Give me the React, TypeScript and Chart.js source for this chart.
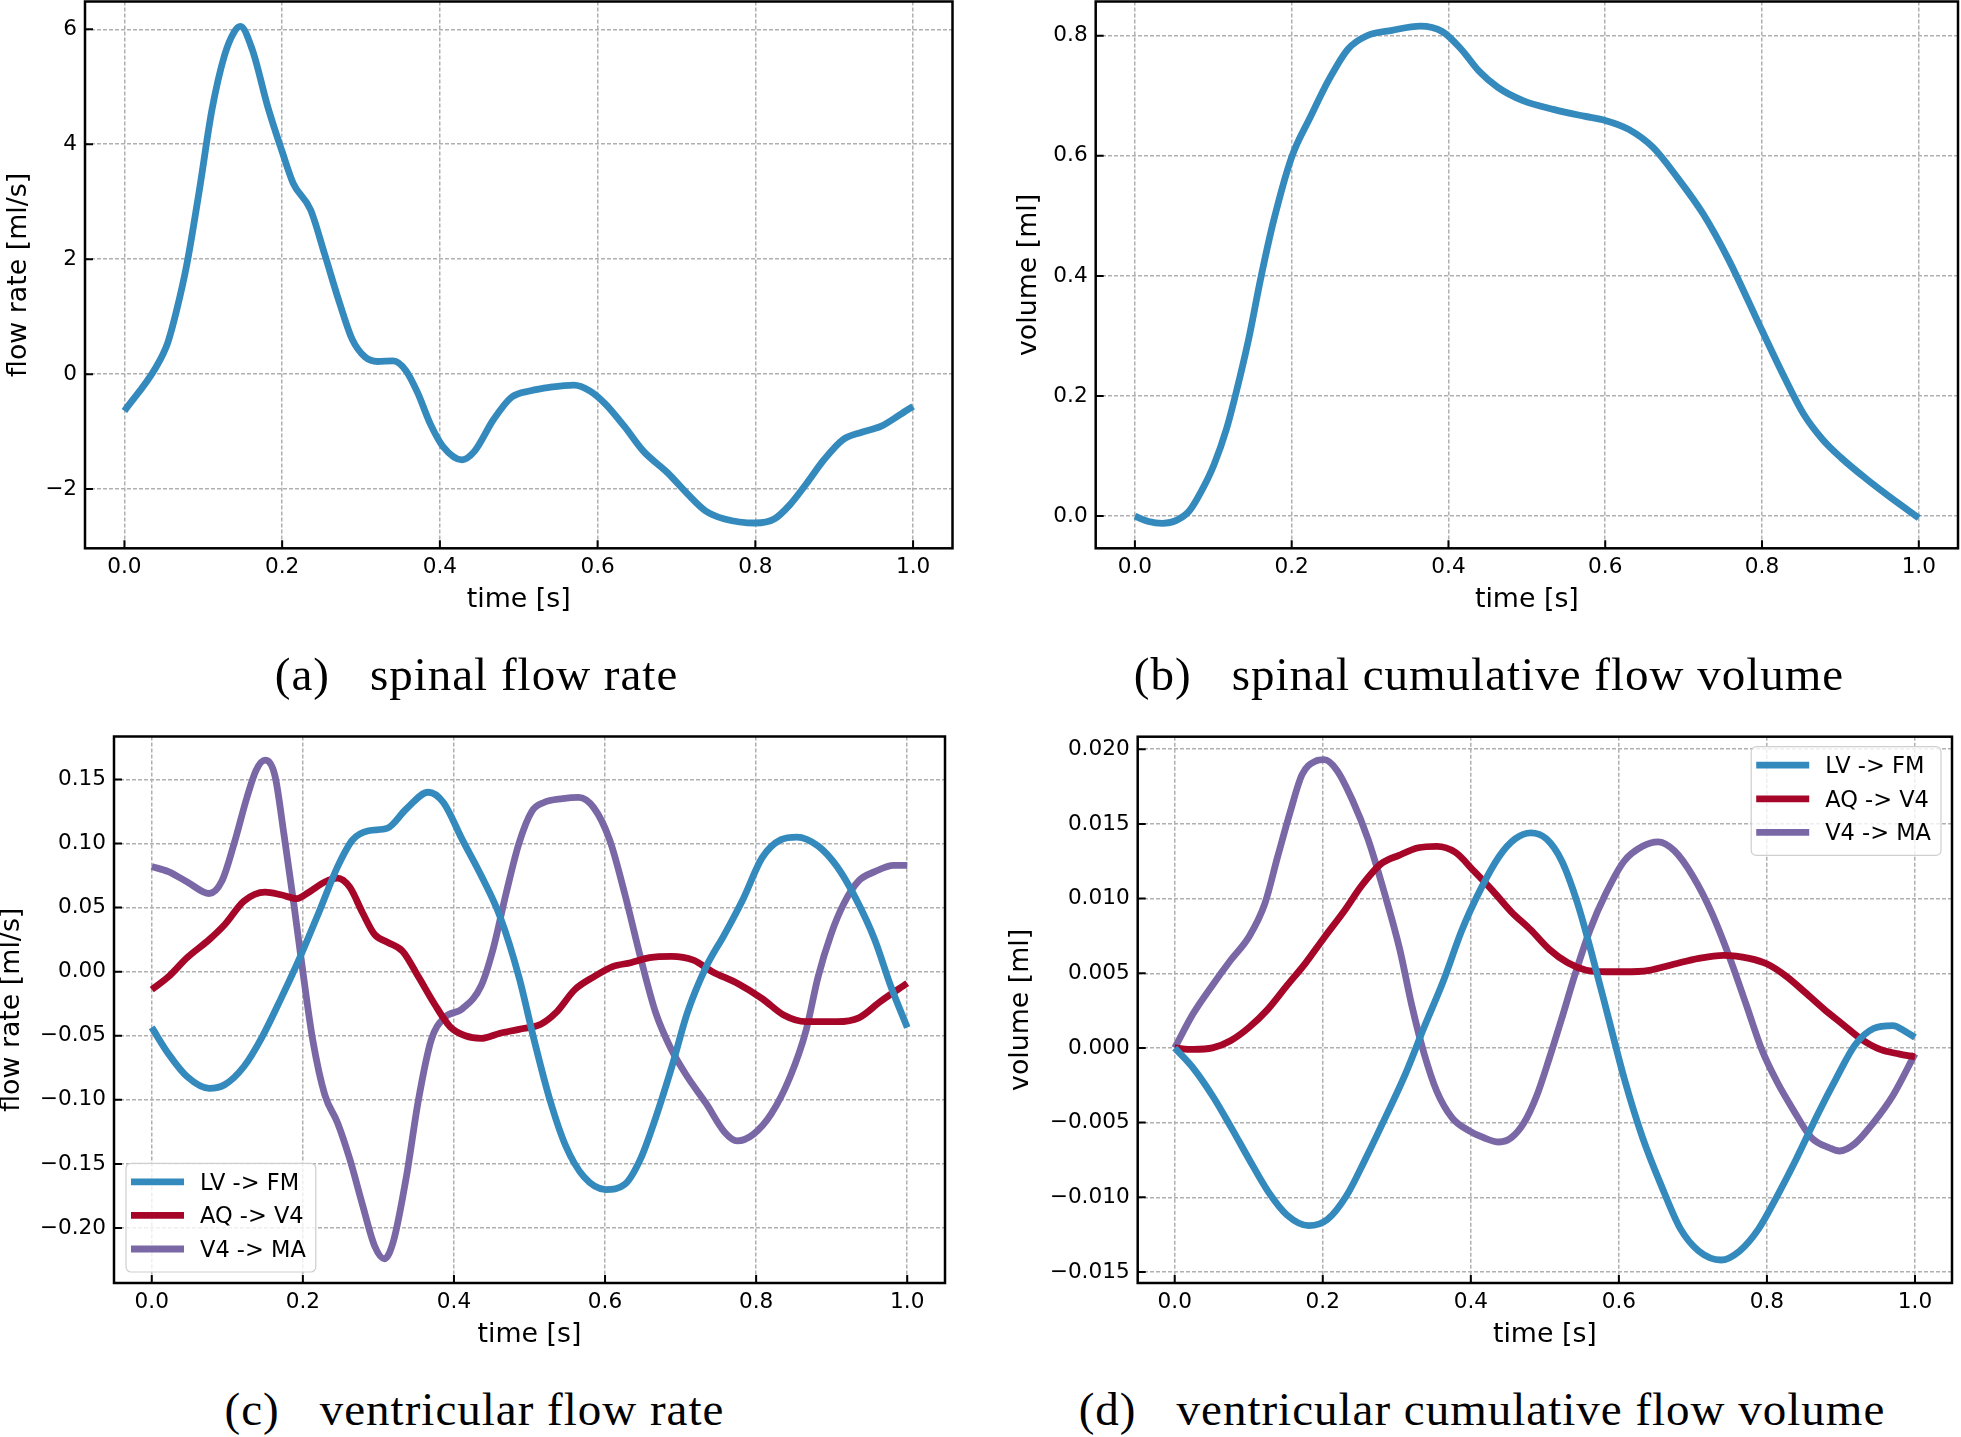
import React, { useEffect, useRef } from 'react';
import { Chart, registerables } from 'chart.js';

Chart.register(...registerables);

const BLUE = '#348ABD';
const RED = '#A60628';
const PURPLE = '#7A68A6';
const GRID = '#b0b0b0';
const SANS = '"DejaVu Sans", sans-serif';
const TICK_SIZE = 21.6;
const LEGEND_SIZE = 22.5;
const LABEL_SIZE = 26.8;
const LINE_W = 6.8;

const xTickValues = [0, 0.2, 0.4, 0.6, 0.8, 1.0];

// (a) spinal flow rate
const spinalRateTime = [0, 0.04, 0.055, 0.066, 0.079, 0.095, 0.111, 0.127, 0.139, 0.147, 0.162, 0.182, 0.2, 0.214, 0.236, 0.254, 0.273, 0.289, 0.305, 0.321, 0.341, 0.357, 0.372, 0.388, 0.404, 0.428, 0.444, 0.468, 0.491, 0.515, 0.539, 0.57, 0.59, 0.61, 0.634, 0.658, 0.689, 0.713, 0.737, 0.761, 0.8, 0.824, 0.844, 0.864, 0.887, 0.911, 0.935, 0.959, 0.983, 1.0];
const spinalRateValue = [-0.64, 0.12, 0.55, 1.1, 1.9, 3.2, 4.6, 5.55, 5.95, 6.05, 5.65, 4.64, 3.87, 3.32, 2.86, 2.08, 1.23, 0.6, 0.3, 0.22, 0.23, 0.06, -0.33, -0.87, -1.26, -1.49, -1.34, -0.79, -0.4, -0.29, -0.23, -0.19, -0.29, -0.52, -0.91, -1.34, -1.72, -2.07, -2.38, -2.52, -2.59, -2.52, -2.27, -1.92, -1.49, -1.14, -1.01, -0.91, -0.71, -0.56];

// (b) spinal cumulative flow volume
const spinalVolTime = [0, 0.0175, 0.035, 0.053, 0.069, 0.085, 0.101, 0.117, 0.129, 0.145, 0.161, 0.177, 0.2, 0.224, 0.248, 0.272, 0.296, 0.328, 0.364, 0.392, 0.416, 0.439, 0.463, 0.495, 0.535, 0.573, 0.6, 0.63, 0.661, 0.693, 0.725, 0.757, 0.8, 0.829, 0.853, 0.877, 0.901, 0.933, 0.964, 1.0];
const spinalVolValue = [0, -0.009, -0.012, -0.007, 0.008, 0.042, 0.086, 0.146, 0.205, 0.294, 0.399, 0.492, 0.598, 0.665, 0.728, 0.778, 0.8, 0.809, 0.816, 0.807, 0.778, 0.741, 0.714, 0.692, 0.677, 0.666, 0.659, 0.644, 0.614, 0.562, 0.503, 0.428, 0.309, 0.23, 0.17, 0.128, 0.097, 0.062, 0.031, -0.003];

// (c) ventricular flow rate
const ventRateLVTime = [0, 0.022, 0.047, 0.076, 0.097, 0.122, 0.146, 0.171, 0.196, 0.221, 0.246, 0.266, 0.287, 0.312, 0.337, 0.366, 0.386, 0.411, 0.436, 0.461, 0.486, 0.506, 0.527, 0.548, 0.572, 0.601, 0.626, 0.647, 0.667, 0.688, 0.709, 0.734, 0.758, 0.783, 0.808, 0.833, 0.854, 0.882, 0.907, 0.932, 0.957, 0.978, 1.0];
const ventRateLVValue = [-0.0435, -0.064, -0.082, -0.091, -0.088, -0.074, -0.051, -0.021, 0.011, 0.046, 0.082, 0.103, 0.11, 0.112, 0.127, 0.14, 0.132, 0.103, 0.075, 0.043, -0.004, -0.053, -0.1, -0.136, -0.16, -0.17, -0.166, -0.146, -0.114, -0.075, -0.032, 0.004, 0.029, 0.057, 0.089, 0.103, 0.105, 0.098, 0.082, 0.057, 0.025, -0.011, -0.0435];
const ventRateAQTime = [0, 0.022, 0.047, 0.076, 0.097, 0.122, 0.15, 0.171, 0.192, 0.208, 0.229, 0.246, 0.262, 0.279, 0.295, 0.312, 0.332, 0.353, 0.374, 0.395, 0.415, 0.436, 0.461, 0.486, 0.515, 0.535, 0.56, 0.585, 0.61, 0.634, 0.659, 0.688, 0.717, 0.742, 0.775, 0.808, 0.837, 0.866, 0.907, 0.936, 0.965, 1.0];
const ventRateAQValue = [-0.014, -0.004, 0.011, 0.025, 0.037, 0.055, 0.062, 0.06, 0.057, 0.062, 0.07, 0.073, 0.066, 0.046, 0.029, 0.023, 0.016, -0.004, -0.025, -0.043, -0.05, -0.052, -0.048, -0.045, -0.041, -0.032, -0.014, -0.004, 0.004, 0.007, 0.011, 0.012, 0.009, 0.0, -0.009, -0.021, -0.034, -0.039, -0.039, -0.036, -0.023, -0.009];
const ventRateV4Time = [0, 0.022, 0.047, 0.076, 0.093, 0.109, 0.126, 0.138, 0.15, 0.163, 0.175, 0.188, 0.2, 0.213, 0.229, 0.246, 0.262, 0.279, 0.295, 0.308, 0.32, 0.337, 0.353, 0.37, 0.387, 0.411, 0.436, 0.452, 0.469, 0.486, 0.503, 0.519, 0.544, 0.565, 0.585, 0.606, 0.626, 0.647, 0.667, 0.688, 0.709, 0.734, 0.758, 0.775, 0.796, 0.82, 0.845, 0.866, 0.882, 0.899, 0.916, 0.936, 0.957, 0.982, 1.0];
const ventRateV4Value = [0.082, 0.078, 0.07, 0.061, 0.071, 0.1, 0.136, 0.157, 0.165, 0.153, 0.107, 0.053, 0.0, -0.053, -0.096, -0.118, -0.146, -0.182, -0.214, -0.224, -0.21, -0.16, -0.1, -0.053, -0.036, -0.029, -0.011, 0.018, 0.061, 0.1, 0.125, 0.132, 0.135, 0.136, 0.128, 0.103, 0.061, 0.011, -0.032, -0.061, -0.082, -0.103, -0.125, -0.132, -0.127, -0.111, -0.082, -0.046, -0.004, 0.029, 0.053, 0.071, 0.078, 0.083, 0.083];

// (d) ventricular cumulative flow volume
const ventVolLVTime = [0, 0.025, 0.051, 0.076, 0.101, 0.126, 0.152, 0.181, 0.206, 0.232, 0.257, 0.287, 0.312, 0.337, 0.363, 0.388, 0.413, 0.438, 0.46, 0.481, 0.502, 0.523, 0.544, 0.565, 0.586, 0.607, 0.632, 0.658, 0.683, 0.708, 0.738, 0.763, 0.789, 0.814, 0.839, 0.869, 0.894, 0.919, 0.944, 0.97, 0.987, 1.0];
const ventVolLVValue = [0, -0.00135, -0.0032, -0.0053, -0.0075, -0.0096, -0.0112, -0.0119, -0.0115, -0.0099, -0.0075, -0.0044, -0.0017, 0.0014, 0.0045, 0.0079, 0.0106, 0.0128, 0.014, 0.0144, 0.014, 0.0125, 0.0097, 0.006, 0.002, -0.002, -0.006, -0.0093, -0.0121, -0.0136, -0.0142, -0.0136, -0.0121, -0.0099, -0.0075, -0.0044, -0.002, 0.0002, 0.0013, 0.0015, 0.0011, 0.0007];
const ventVolAQTime = [0, 0.025, 0.051, 0.076, 0.101, 0.126, 0.152, 0.177, 0.202, 0.228, 0.253, 0.278, 0.303, 0.329, 0.354, 0.379, 0.405, 0.43, 0.455, 0.481, 0.506, 0.531, 0.556, 0.582, 0.607, 0.641, 0.674, 0.708, 0.742, 0.776, 0.801, 0.826, 0.852, 0.877, 0.902, 0.927, 0.953, 0.978, 1.0];
const ventVolAQValue = [0, -0.0001, 0.0, 0.0005, 0.0014, 0.0026, 0.0042, 0.0057, 0.0074, 0.0091, 0.0109, 0.0123, 0.0129, 0.0134, 0.0135, 0.0131, 0.0118, 0.0105, 0.0091, 0.0079, 0.0066, 0.0057, 0.0052, 0.0051, 0.0051, 0.0052, 0.0056, 0.006, 0.0062, 0.006, 0.0056, 0.0048, 0.0037, 0.0026, 0.0016, 0.0006, -0.0001, -0.0004, -0.0006];
const ventVolV4Time = [0, 0.025, 0.051, 0.076, 0.101, 0.122, 0.139, 0.156, 0.172, 0.19, 0.202, 0.219, 0.24, 0.261, 0.282, 0.304, 0.32, 0.337, 0.354, 0.375, 0.396, 0.417, 0.438, 0.455, 0.472, 0.489, 0.506, 0.523, 0.54, 0.561, 0.582, 0.607, 0.632, 0.653, 0.675, 0.7, 0.725, 0.75, 0.772, 0.793, 0.814, 0.835, 0.86, 0.885, 0.898, 0.919, 0.944, 0.97, 1.0];
const ventVolV4Value = [0, 0.0023, 0.0042, 0.0059, 0.0075, 0.0097, 0.0128, 0.0158, 0.0183, 0.0192, 0.0193, 0.0186, 0.0166, 0.014, 0.0106, 0.0066, 0.0029, -0.0004, -0.0029, -0.0047, -0.0055, -0.006, -0.0063, -0.006, -0.005, -0.0032, -0.0007, 0.002, 0.0048, 0.0079, 0.0103, 0.0125, 0.0135, 0.0138, 0.0132, 0.0115, 0.0091, 0.006, 0.0029, -0.0001, -0.0023, -0.0041, -0.006, -0.0067, -0.0069, -0.0064, -0.005, -0.0032, -0.0004];

const seriesLabels = ['LV -> FM', 'AQ -> V4', 'V4 -> MA'];

const yTicksA = [-2, 0, 2, 4, 6];
const yTicksB = [0, 0.2, 0.4, 0.6, 0.8];
const yTicksC = [-0.2, -0.15, -0.1, -0.05, 0, 0.05, 0.1, 0.15];
const yTicksD = [-0.015, -0.01, -0.005, 0, 0.005, 0.01, 0.015, 0.02];

const pts = (t: number[], v: number[]) => t.map((x, i) => ({ x, y: v[i] }));

const fmt = (v: number, d: number) => {
  const s = Math.abs(v).toFixed(d);
  return v < -1e-12 ? '\u2212' + s : s;
};

const framePlugin = {
  id: 'frameTicks',
  afterDatasetsDraw(chart: any) {
    const { ctx, chartArea: ca, scales } = chart;
    const xs = scales.x;
    const ys = scales.y;
    ctx.save();
    ctx.strokeStyle = '#000';
    ctx.lineWidth = 2;
    ctx.beginPath();
    xs.ticks.forEach((t: any) => {
      const px = xs.getPixelForValue(t.value);
      ctx.moveTo(px, ca.bottom);
      ctx.lineTo(px, ca.bottom - 8);
    });
    ys.ticks.forEach((t: any) => {
      const py = ys.getPixelForValue(t.value);
      ctx.moveTo(ca.left, py);
      ctx.lineTo(ca.left + 8, py);
    });
    ctx.stroke();
    ctx.lineWidth = 2.5;
    ctx.strokeRect(ca.left, ca.top, ca.right - ca.left, ca.bottom - ca.top);
    ctx.restore();
  },
};

const legendBoxPlugin = {
  id: 'legendBox',
  afterDraw(chart: any, _args: any, opts: any) {
    if (!opts || !opts.corner) return;
    const { ctx, chartArea: ca } = chart;
    const ds = chart.data.datasets;
    ctx.save();
    ctx.font = `${LEGEND_SIZE}px ${SANS}`;
    const maxW = Math.max(...ds.map((d: any) => ctx.measureText(d.label).width));
    const w = 74 + maxW + 10;
    const first = 18.5;
    const rowH = 33.6;
    const h = first + rowH * (ds.length - 1) + 23;
    let x0: number;
    let y0: number;
    if (opts.corner === 'll') {
      x0 = ca.left + 12;
      y0 = ca.bottom - 11 - h;
    } else {
      x0 = ca.right - 11 - w;
      y0 = ca.top + 10;
    }
    ctx.beginPath();
    if (ctx.roundRect) ctx.roundRect(x0, y0, w, h, 5);
    else ctx.rect(x0, y0, w, h);
    ctx.fillStyle = 'rgba(255,255,255,0.8)';
    ctx.fill();
    ctx.strokeStyle = '#cfcfcf';
    ctx.lineWidth = 1.2;
    ctx.stroke();
    ds.forEach((d: any, i: number) => {
      const yc = y0 + first + i * rowH;
      ctx.beginPath();
      ctx.strokeStyle = d.borderColor;
      ctx.lineWidth = LINE_W;
      ctx.lineCap = 'butt';
      ctx.moveTo(x0 + 5, yc);
      ctx.lineTo(x0 + 58, yc);
      ctx.stroke();
      ctx.fillStyle = '#000';
      ctx.textBaseline = 'middle';
      ctx.textAlign = 'left';
      ctx.fillText(d.label, x0 + 74, yc + 2);
    });
    ctx.restore();
  },
};

type Box = { L: number; T: number; R: number; B: number };
type Spec = {
  box: Box;
  yMin: number;
  yMax: number;
  yTicks: number[];
  yDecimals: number;
  yTitle: string;
  yLabelX: number;
  datasets: { label: string; color: string; data: { x: number; y: number }[] }[];
  legendCorner?: string;
};

function Panel({ spec }: { spec: Spec }) {
  const ref = useRef<HTMLCanvasElement | null>(null);
  const { box } = spec;
  const cx = Math.floor(box.L - 150);
  const cy = Math.floor(box.T - 40);
  const cw = Math.ceil(box.R + 40 - cx);
  const ch = Math.ceil(box.B + 100 - cy);

  useEffect(() => {
    if (!ref.current) return;
    const yW = box.L - cx;
    const padTop = box.T - cy;
    const padRight = cx + cw - box.R;
    const xH = cy + ch - box.B;
    const lh = LABEL_SIZE * 1.2;
    const yTitlePad = spec.yLabelX - cx - lh / 2;
    const xTitlePad = xH - 52 - lh / 2;

    const chart = new Chart(ref.current, {
      type: 'line',
      data: {
        datasets: spec.datasets.map((d) => ({
          label: d.label,
          data: d.data,
          borderColor: d.color,
          backgroundColor: d.color,
          borderWidth: LINE_W,
          pointRadius: 0,
          pointHoverRadius: 0,
          fill: false,
          cubicInterpolationMode: 'monotone',
          borderCapStyle: 'butt',
          borderJoinStyle: 'round',
        })),
      },
      options: {
        responsive: false,
        animation: false,
        devicePixelRatio: 1,
        events: [],
        layout: { padding: { left: 0, top: padTop, right: padRight, bottom: 0 } },
        plugins: {
          legend: { display: false },
          tooltip: { enabled: false },
          legendBox: { corner: spec.legendCorner || '' },
        } as any,
        scales: {
          x: {
            type: 'linear',
            min: -0.05,
            max: 1.05,
            afterBuildTicks: (s: any) => {
              s.ticks = xTickValues.map((v) => ({ value: v }));
            },
            afterFit: (s: any) => {
              s.height = xH;
            },
            grid: { color: GRID, lineWidth: 1.5, drawTicks: false },
            border: { display: false, dash: [4, 2] },
            ticks: {
              padding: 6,
              color: '#000',
              maxRotation: 0,
              autoSkip: false,
              font: { family: SANS, size: TICK_SIZE },
              callback: (v: any) => Number(v).toFixed(1),
            },
            title: {
              display: true,
              text: 'time [s]',
              color: '#000',
              font: { family: SANS, size: LABEL_SIZE },
              padding: { top: 0, bottom: xTitlePad },
            },
          },
          y: {
            type: 'linear',
            min: spec.yMin,
            max: spec.yMax,
            afterBuildTicks: (s: any) => {
              s.ticks = spec.yTicks.map((v) => ({ value: v }));
            },
            afterFit: (s: any) => {
              s.width = yW;
            },
            grid: { color: GRID, lineWidth: 1.5, drawTicks: false },
            border: { display: false, dash: [4, 2] },
            ticks: {
              padding: 8,
              color: '#000',
              autoSkip: false,
              font: { family: SANS, size: TICK_SIZE },
              callback: (v: any) => fmt(Number(v), spec.yDecimals),
            },
            title: {
              display: true,
              text: spec.yTitle,
              color: '#000',
              font: { family: SANS, size: LABEL_SIZE },
              padding: { top: yTitlePad, bottom: 0 },
            },
          },
        },
      } as any,
      plugins: [framePlugin, legendBoxPlugin],
    });
    return () => chart.destroy();
  }, []);

  return (
    <canvas
      ref={ref}
      width={cw}
      height={ch}
      style={{ position: 'absolute', left: cx, top: cy, width: cw, height: ch }}
    />
  );
}

const CAP_SIZE = 47;

function Caption({ tag, text, center, baseline }: { tag: string; text: string; center: number; baseline: number }) {
  return (
    <div
      style={{
        position: 'absolute',
        left: center - 500,
        width: 1000,
        top: baseline - 0.8375 * CAP_SIZE,
        textAlign: 'center',
        fontFamily: '"Liberation Serif", serif',
        fontSize: CAP_SIZE,
        lineHeight: 1,
        whiteSpace: 'nowrap',
        color: '#000',
        letterSpacing: 1,
      }}
    >
      <span>{tag}</span>
      <span style={{ marginLeft: 40 }}>{text}</span>
    </div>
  );
}

const specs: Spec[] = [
  {
    box: { L: 85, T: 1.5, R: 952.5, B: 548.3 },
    yMin: -3.03,
    yMax: 6.483,
    yTicks: yTicksA,
    yDecimals: 0,
    yTitle: 'flow rate [ml/s]',
    yLabelX: 19,
    datasets: [{ label: 'spinal', color: BLUE, data: pts(spinalRateTime, spinalRateValue) }],
  },
  {
    box: { L: 1095.7, T: 1.5, R: 1958, B: 548.3 },
    yMin: -0.0536,
    yMax: 0.857,
    yTicks: yTicksB,
    yDecimals: 1,
    yTitle: 'volume [ml]',
    yLabelX: 1029,
    datasets: [{ label: 'spinal', color: BLUE, data: pts(spinalVolTime, spinalVolValue) }],
  },
  {
    box: { L: 114, T: 736.5, R: 945, B: 1283 },
    yMin: -0.2429,
    yMax: 0.1835,
    yTicks: yTicksC,
    yDecimals: 2,
    yTitle: 'flow rate [ml/s]',
    yLabelX: 12,
    legendCorner: 'll',
    datasets: [
      { label: seriesLabels[0], color: BLUE, data: pts(ventRateLVTime, ventRateLVValue) },
      { label: seriesLabels[1], color: RED, data: pts(ventRateAQTime, ventRateAQValue) },
      { label: seriesLabels[2], color: PURPLE, data: pts(ventRateV4Time, ventRateV4Value) },
    ],
  },
  {
    box: { L: 1137.7, T: 736.7, R: 1952, B: 1283 },
    yMin: -0.01574,
    yMax: 0.02084,
    yTicks: yTicksD,
    yDecimals: 3,
    yTitle: 'volume [ml]',
    yLabelX: 1021,
    legendCorner: 'ur',
    datasets: [
      { label: seriesLabels[0], color: BLUE, data: pts(ventVolLVTime, ventVolLVValue) },
      { label: seriesLabels[1], color: RED, data: pts(ventVolAQTime, ventVolAQValue) },
      { label: seriesLabels[2], color: PURPLE, data: pts(ventVolV4Time, ventVolV4Value) },
    ],
  },
];

export default function App() {
  return (
    <div
      style={{
        position: 'absolute',
        left: 0,
        top: 0,
        width: 1961,
        height: 1437,
        overflow: 'hidden',
        background: '#fff',
      }}
    >
      {specs.map((s, i) => (
        <Panel key={i} spec={s} />
      ))}
      <Caption tag="(a)" text="spinal flow rate" center={476.5} baseline={690.5} />
      <Caption tag="(b)" text="spinal cumulative flow volume" center={1489} baseline={690.5} />
      <Caption tag="(c)" text="ventricular flow rate" center={474.5} baseline={1425.5} />
      <Caption tag="(d)" text="ventricular cumulative flow volume" center={1482} baseline={1425.5} />
    </div>
  );
}
